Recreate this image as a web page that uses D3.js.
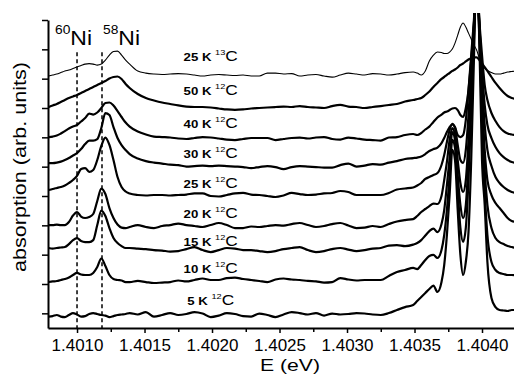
<!DOCTYPE html>
<html>
<head>
<meta charset="utf-8">
<title>Ni absorption vs temperature</title>
<style>
body { margin: 0; background: #fff; }
svg { display: block; font-family: "Liberation Sans", Arial, Helvetica, sans-serif; }
.trace { fill: none; stroke: #000; stroke-width: 2.2px; stroke-linejoin: round; }
.trace--thin { stroke-width: 1.1px; }
.iso { stroke: #000; stroke-width: 1.5px; stroke-dasharray: 4,3; }
.axis path { stroke: #000; stroke-width: 2px; }
.axis line { stroke: #000; stroke-width: 1.5px; }
.axis text { font-size: 17px; fill: #000; font-family: "Liberation Sans", Arial, sans-serif; }
</style>
<script src="https://cdn.jsdelivr.net/npm/d3@7"></script>
</head>
<body>
<svg width="514" height="375"></svg>
<script>

// photon energy grid (eV), shared by all spectra
var energy = [
  1.40079, 1.40082, 1.40085, 1.40088, 1.40091, 1.40094, 1.40097, 1.40100, 1.40103, 1.40106,
  1.40109, 1.40112, 1.40115, 1.40118, 1.40121, 1.40124, 1.40127, 1.40130, 1.40133, 1.40136, 1.40139,
  1.40145, 1.40151, 1.40157, 1.40163, 1.40169, 1.40175, 1.40181, 1.40187, 1.40193, 1.40199,
  1.40205, 1.40211, 1.40217, 1.40223, 1.40229, 1.40235, 1.40241, 1.40247, 1.40253, 1.40259,
  1.40265, 1.40271, 1.40277, 1.40283, 1.40289, 1.40295, 1.40301, 1.40307, 1.40313, 1.40319,
  1.40325, 1.40331, 1.40337, 1.40343, 1.40349,
  1.40352, 1.40355, 1.40358, 1.40361, 1.40364, 1.40367, 1.40370,
  1.40372, 1.40374, 1.40376, 1.40378, 1.40380, 1.40382, 1.40384, 1.40386, 1.40388, 1.40390,
  1.40392, 1.40394, 1.40396, 1.40398, 1.40400, 1.40402, 1.40404,
  1.40407, 1.40410, 1.40413, 1.40416, 1.40419, 1.40422, 1.40425
];

// bottom to top
var temps   = [5, 10, 15, 20, 25, 30, 40, 50, 25];
var carbon  = ["12", "12", "12", "12", "12", "12", "12", "12", "13"];
var offsets = [0, 30, 60, 90, 120, 150, 180, 210, 240];

var s5K = [
  -3.3, -2.8, -1.7, -3.3, -3.8, -1.7, 0.3, -1.2, -3.3, -2.8, -0.7, 0.3, -0.7, -1.7, -2.3, -3.8, -2.8, -1.7, -1.2, -0.7, 0.3,
  -1.2, 1.3, -3.3, -1.7, 0.3, -1.7, -0.7, 1.3, -0.2, -3.8, -2.3, 0.3, -0.7, -2.8, -3.3, -0.2, -1.7, -3.8, -1.2, 1.3,
  0.3, -1.2, 0.3, -2.3, -0.2, -1.2, -0.7, 0.3, -0.2, -1.2, -1.7, 0.3, 3.4, 6.4, 8.5,
  12.6, 16.7, 20.8, 24.9, 28.4, 21.8, 32.0,
  49.4, 80.1, 121.0, 167.1, 156.8, 105.7, 59.6, 39.2, 52.5, 83.2, 156.8, 259.1, 355, 279.6, 156.8, 110.8, 52.5,
  15.7, 6.4, 3.4, 2.9, 2.4, 3.4, 3.4
];
var s10K = [
  2.0, 2.6, 3.1, 4.1, 5.1, 6.6, 9.2, 11.3, 9.7, 9.2, 9.2, 11.3, 17.4, 26.1, 18.4, 9.2, 5.1, 4.1, 3.6, 2.0, 2.0,
  3.1, 2.0, 1.0, 1.5, 2.0, 3.6, 2.6, 4.1, 5.6, 4.1, 4.1, 6.1, 6.6, 5.1, 4.1, 3.1, 2.0, 4.6, 5.6, 4.6,
  4.1, 3.1, 2.6, 1.5, 2.0, 6.1, 4.6, 3.6, 4.1, 4.1, 4.1, 8.2, 12.3, 14.3, 16.4,
  15.3, 19.4, 24.6, 28.6, 29.7, 26.6, 34.8,
  50.1, 75.7, 111.5, 147.3, 139.1, 96.2, 57.3, 43.0, 57.3, 106.4, 178.0, 249.6, 325, 254.7, 172.9, 96.2, 50.1,
  22.5, 14.3, 11.3, 10.2, 9.2, 9.2, 8.7
];
var s15K = [
  6.8, 6.2, 6.8, 7.3, 7.8, 10.8, 14.9, 17.0, 13.9, 12.9, 12.9, 14.9, 30.3, 45.1, 39.5, 27.2, 17.0, 11.9, 8.8, 6.8, 6.8,
  6.2, 5.7, 4.7, 4.2, 3.2, 3.7, 5.7, 7.8, 4.7, 2.7, 4.7, 6.8, 6.2, 4.7, 4.7, 3.7, 2.7, 3.7, 5.7, 6.8,
  7.8, 4.7, 2.7, 3.7, 5.7, 6.8, 5.2, 3.7, 4.7, 6.2, 6.8, 9.3, 9.8, 8.8, 10.3,
  11.9, 14.9, 19.5, 24.1, 26.7, 23.1, 31.3,
  45.6, 71.2, 98.8, 125.4, 117.2, 81.4, 50.7, 37.4, 50.7, 96.8, 163.2, 224.3, 295, 229.8, 153.0, 86.5, 50.7,
  27.2, 17.0, 12.9, 10.8, 8.8, 7.8, 6.8
];
var s20K = [
  0.3, 0.3, 0.8, 0.3, 0.3, 3.4, 10.0, 13.6, 9.0, 7.5, 8.5, 11.6, 24.9, 37.6, 32.0, 17.7, 7.5, 0.8, -2.3, -2.8, -1.7,
  0.3, -1.7, -2.8, -0.7, 0.3, 1.8, 0.3, -0.7, -1.7, 0.3, 2.4, 0.3, -2.8, -2.8, -1.2, -1.7, -0.7, 0.3, -0.2, 1.3,
  2.4, 0.3, -1.7, -0.7, 1.3, 2.4, -0.2, -2.8, -2.3, -0.7, -1.7, 1.3, 3.9, 5.4, 6.4,
  9.5, 13.6, 16.7, 19.7, 22.3, 21.8, 30.0,
  46.3, 64.8, 87.3, 99.5, 92.4, 66.8, 43.3, 34.1, 46.3, 87.3, 143.5, 199.8, 265, 204.9, 133.3, 77.0, 46.3,
  31.0, 22.8, 17.7, 12.6, 7.5, 4.4, 3.4
];
var s25K = [
  6.1, 7.2, 8.2, 9.2, 10.7, 13.3, 16.4, 20.5, 27.6, 28.6, 24.6, 26.6, 36.8, 51.2, 59.8, 52.2, 36.8, 19.4, 9.2, 4.6, 2.6,
  1.0, 0.5, 1.0, 1.0, 0.5, 1.0, 1.5, 2.6, 2.6, 0, -0.5, 1.0, 2.6, 3.1, 1.5, 1.0, 0, -1.0, 0.5, 3.1,
  2.0, 1.0, 1.5, 2.6, 3.1, 5.1, 4.1, 1.0, 1.0, 1.0, 1.0, 3.1, 6.6, 7.7, 8.7,
  10.7, 13.3, 17.4, 19.4, 21.5, 23.5, 31.7,
  41.9, 55.2, 67.5, 73.7, 69.6, 52.2, 36.8, 33.8, 47.1, 82.9, 128.9, 174.9, 235, 180.0, 118.7, 72.6, 47.1,
  30.7, 19.4, 13.3, 9.2, 6.1, 4.1, 3.1
];
var s30K = [
  3.7, 3.7, 4.2, 5.2, 6.8, 8.8, 11.4, 13.9, 18.0, 23.1, 26.7, 26.7, 28.2, 39.5, 54.8, 52.8, 40.5, 29.3, 22.1, 17.0, 12.9,
  8.3, 5.7, 4.2, 3.2, 2.1, 1.6, 0.1, 0.6, 1.1, 0.6, 1.1, 0.6, 0.1, -0.4, -1.4, -0.4, 0.6, -0.4, -2.5, -0.4,
  0.6, 0.1, -0.4, -0.9, -0.9, 1.6, 3.2, 0.1, 1.1, 2.7, 2.1, 4.2, 5.7, 7.8, 8.8,
  9.3, 10.3, 12.9, 16.0, 18.0, 19.5, 24.1,
  29.3, 35.4, 40.5, 43.1, 40.5, 32.3, 30.3, 32.3, 47.7, 78.4, 114.2, 150.0, 195, 144.9, 98.8, 63.0, 42.6,
  29.3, 20.1, 13.9, 9.8, 6.8, 4.7, 3.7
];
var s40K = [
  0.3, 0.8, 1.8, 3.9, 6.4, 9.0, 11.0, 12.6, 16.2, 19.7, 24.3, 23.3, 25.4, 30.0, 35.1, 35.6, 32.5, 26.9, 20.8, 15.1, 11.0,
  5.9, 2.9, 0.8, 0.3, -0.2, -1.2, -1.7, -0.7, 0.3, -0.2, -1.2, -2.3, -2.8, -1.7, -0.7, -0.7, -0.7, -2.8, -1.7, -0.7,
  -0.2, -1.2, -0.2, 0.3, -1.7, -2.3, -0.2, -1.2, -2.3, -2.8, -3.3, -0.2, 0.3, 2.4, 3.4,
  2.4, 4.4, 8.0, 11.0, 15.7, 20.3, 23.3,
  25.4, 26.4, 27.9, 29.5, 30.0, 27.9, 22.8, 20.8, 30.0, 48.4, 79.1, 114.9, 165, 120.0, 84.2, 53.5, 38.2,
  24.9, 16.7, 10.5, 6.4, 3.9, 2.9, 2.4
];
var s50K = [
  1.0, 2.6, 4.1, 6.1, 8.2, 10.2, 11.8, 13.3, 15.3, 17.4, 19.4, 21.5, 23.5, 25.6, 27.6, 30.2, 31.7, 32.2, 29.7, 24.6, 20.5,
  14.3, 10.2, 7.7, 5.6, 4.1, 2.6, 1.5, 1.0, 1.0, 0.5, -0.5, -1.5, -2.0, -1.5, -0.5, 0, 0.5, 1.0, 1.5, 1.0,
  2.0, 1.0, 0.5, 0, 2.0, 3.1, 1.5, 1.0, 0, 1.0, 2.0, 3.1, 4.1, 6.6, 8.2,
  9.2, 10.2, 13.3, 16.9, 21.5, 25.6, 29.7,
  31.7, 33.8, 35.8, 37.9, 39.4, 41.4, 44.0, 45.5, 47.6, 49.6, 50.6, 51.7, 51.7, 49.1, 45.5, 41.9, 37.9,
  31.7, 25.6, 20.5, 15.9, 12.3, 10.2, 9.2
];
var s25K13C = [
  2.7, 3.7, 4.7, 6.2, 7.8, 8.8, 10.3, 11.9, 13.4, 14.9, 15.4, 14.9, 13.9, 14.9, 19.0, 24.1, 27.7, 28.2, 24.1, 19.0, 14.9,
  7.8, 5.7, 4.7, 4.2, 4.7, 5.2, 4.7, 3.7, 2.7, 3.7, 4.2, 3.7, 3.2, 3.7, 2.7, 2.7, 5.7, 5.7, 4.7, 5.2,
  2.7, 3.7, 4.2, 2.7, 1.6, 3.7, 5.7, 4.7, 3.7, 5.2, 4.7, 3.7, 4.7, 6.2, 6.8,
  5.7, 3.7, 7.8, 18.0, 24.1, 27.2, 26.7,
  25.7, 25.7, 27.2, 30.3, 36.4, 44.6, 52.8, 56.9, 52.8, 46.6, 40.5, 34.4, 29.3, 21.1, 14.9, 10.8, 8.3,
  6.2, 4.7, 4.7, 5.7, 6.8, 7.3, 7.8
];

var series = [s5K, s10K, s15K, s20K, s25K, s30K, s40K, s50K, s25K13C];

var isotopeE = [1.40100, 1.401185];
var isotopeMass = ["60", "58"];

var xTicks = [1.4010, 1.4015, 1.4020, 1.4025, 1.4030, 1.4035, 1.4040];
var xMinor = [1.40125, 1.40175, 1.40225, 1.40275, 1.40325, 1.40375];
var yTicks = [0, 30, 60, 90, 120, 150, 180, 210, 240, 270, 300];

series.forEach(function(s, i) {
  if (s.length !== energy.length) throw new Error("series " + i + " has " + s.length + " points");
});

var svg = d3.select("svg");

var x = d3.scaleLinear().domain([1.400785, 1.404237]).range([48, 514]);
var y = d3.scaleLinear().domain([-15, 300]).range([328, 20]);

svg.append("clipPath").attr("id", "plot-clip")
  .append("rect").attr("x", 48).attr("y", 13).attr("width", 466).attr("height", 315);

// isotope shift markers
svg.append("g").selectAll("line")
  .data(isotopeE)
  .join("line")
    .attr("class", "iso")
    .attr("x1", function(d) { return x(d); })
    .attr("x2", function(d) { return x(d); })
    .attr("y1", y(267))
    .attr("y2", y(-15));

var line = d3.line()
    .x(function(d, i) { return x(energy[i]); })
    .curve(d3.curveMonotoneX);

svg.append("g").attr("clip-path", "url(#plot-clip)")
  .selectAll("path")
  .data(series)
  .join("path")
    .attr("class", function(d, i) { return carbon[i] === "13" ? "trace trace--thin" : "trace"; })
    .attr("d", function(s, i) {
      return line.y(function(v) { return y(v + offsets[i]); })(s);
    });

// axes
var xAxis = svg.append("g").attr("class", "axis").attr("transform", "translate(0," + y(-15) + ")");
xAxis.call(d3.axisBottom(x).tickValues(xTicks).tickSize(5).tickSizeOuter(0).tickFormat(d3.format(".4f")));
xAxis.selectAll("text").attr("y", 11);
svg.append("g").attr("class", "axis").attr("transform", "translate(0," + y(-15) + ")")
  .call(d3.axisBottom(x).tickValues(xMinor).tickSize(4).tickFormat(""))
  .select(".domain").remove();

svg.append("g").attr("class", "axis").attr("transform", "translate(48,0)")
  .call(d3.axisLeft(y).tickValues(yTicks).tickSize(6).tickSizeOuter(0).tickFormat(""));

// series labels
var labelLift = [8.5, 11.3, 8.4, 7.5, 8.2, 8.9, 9.5, 13.3, 17.6];
var lab = svg.append("g").selectAll("text")
  .data(series)
  .join("text")
    .attr("text-anchor", "middle")
    .attr("transform", function(d, i) {
      return "translate(" + x(1.40199) + "," + y(offsets[i] + labelLift[i]) + ") scale(1.15,1)";
    });
lab.append("tspan").attr("font-weight", "bold").attr("font-size", "11.5px")
  .text(function(d, i) { return temps[i] + " K "; });
lab.append("tspan").attr("font-size", "8px").attr("dy", -6)
  .text(function(d, i) { return carbon[i]; });
lab.append("tspan").attr("font-size", "15px").attr("dy", 6).text("C");

// isotope labels
var isoLab = svg.append("g").selectAll("text")
  .data(isotopeE)
  .join("text")
    .attr("transform", function(d, i) {
      return "translate(" + (x(d) + (i === 0 ? -22 : 1)) + "," + y(274) + ") scale(1.15,1)";
    });
isoLab.append("tspan").attr("font-size", "12px").attr("dy", -11)
  .text(function(d, i) { return isotopeMass[i]; });
isoLab.append("tspan").attr("font-size", "20px").attr("dy", 11).text("Ni");

// axis titles
svg.append("text")
    .attr("transform", "translate(26,167) rotate(-90)")
    .attr("text-anchor", "middle")
    .attr("font-size", "18px")
    .attr("textLength", 210)
    .attr("lengthAdjust", "spacingAndGlyphs")
    .text("absorption (arb. units)");

svg.append("text")
    .attr("x", 260)
    .attr("y", 371)
    .attr("font-size", "16.5px")
    .attr("textLength", 60)
    .attr("lengthAdjust", "spacingAndGlyphs")
    .text("E (eV)");

</script>
</body>
</html>
